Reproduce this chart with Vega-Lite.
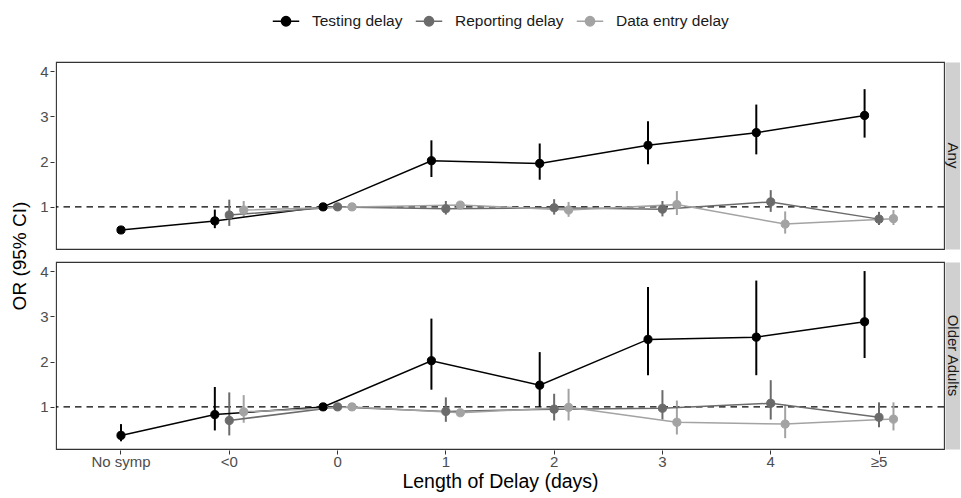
{
  "$schema": "https://vega.github.io/schema/vega-lite/v6.json",
  "padding": {"left": 10, "top": 7, "right": 0, "bottom": 5},
  "background": "white",
  "config": {
    "font": "Liberation Sans",
    "view": {"stroke": "#333333", "strokeWidth": 1.1},
    "axis": {"grid": false, "labelFont": "Liberation Sans", "titleFont": "Liberation Sans"}
  },
  "data": {
    "values": [
      {"panel": "Any", "delay": "No symp", "series": "Testing delay", "or": 0.49, "lo": 0.42, "hi": 0.57},
      {"panel": "Any", "delay": "<0", "series": "Testing delay", "or": 0.69, "lo": 0.53, "hi": 0.94},
      {"panel": "Any", "delay": "0", "series": "Testing delay", "or": 1.0, "lo": 1.0, "hi": 1.0},
      {"panel": "Any", "delay": "1", "series": "Testing delay", "or": 2.02, "lo": 1.66, "hi": 2.47},
      {"panel": "Any", "delay": "2", "series": "Testing delay", "or": 1.96, "lo": 1.6, "hi": 2.4},
      {"panel": "Any", "delay": "3", "series": "Testing delay", "or": 2.36, "lo": 1.94, "hi": 2.89},
      {"panel": "Any", "delay": "4", "series": "Testing delay", "or": 2.64, "lo": 2.16, "hi": 3.26},
      {"panel": "Any", "delay": "≥5", "series": "Testing delay", "or": 3.02, "lo": 2.53, "hi": 3.6},
      {"panel": "Any", "delay": "<0", "series": "Reporting delay", "or": 0.82, "lo": 0.58, "hi": 1.16},
      {"panel": "Any", "delay": "0", "series": "Reporting delay", "or": 1.0, "lo": 1.0, "hi": 1.0},
      {"panel": "Any", "delay": "1", "series": "Reporting delay", "or": 0.96, "lo": 0.83, "hi": 1.13},
      {"panel": "Any", "delay": "2", "series": "Reporting delay", "or": 0.98, "lo": 0.83, "hi": 1.17},
      {"panel": "Any", "delay": "3", "series": "Reporting delay", "or": 0.95, "lo": 0.79, "hi": 1.13},
      {"panel": "Any", "delay": "4", "series": "Reporting delay", "or": 1.11, "lo": 0.89, "hi": 1.37},
      {"panel": "Any", "delay": "≥5", "series": "Reporting delay", "or": 0.73, "lo": 0.6, "hi": 0.89},
      {"panel": "Any", "delay": "<0", "series": "Data entry delay", "or": 0.93, "lo": 0.78, "hi": 1.13},
      {"panel": "Any", "delay": "0", "series": "Data entry delay", "or": 1.0, "lo": 1.0, "hi": 1.0},
      {"panel": "Any", "delay": "1", "series": "Data entry delay", "or": 1.04, "lo": 0.98, "hi": 1.1},
      {"panel": "Any", "delay": "2", "series": "Data entry delay", "or": 0.93, "lo": 0.78, "hi": 1.11},
      {"panel": "Any", "delay": "3", "series": "Data entry delay", "or": 1.05, "lo": 0.82, "hi": 1.35},
      {"panel": "Any", "delay": "4", "series": "Data entry delay", "or": 0.62, "lo": 0.41, "hi": 0.9},
      {"panel": "Any", "delay": "≥5", "series": "Data entry delay", "or": 0.74, "lo": 0.6, "hi": 0.93},
      {"panel": "Older Adults", "delay": "No symp", "series": "Testing delay", "or": 0.37, "lo": 0.24, "hi": 0.62},
      {"panel": "Older Adults", "delay": "<0", "series": "Testing delay", "or": 0.83, "lo": 0.48, "hi": 1.44},
      {"panel": "Older Adults", "delay": "0", "series": "Testing delay", "or": 1.0, "lo": 1.0, "hi": 1.0},
      {"panel": "Older Adults", "delay": "1", "series": "Testing delay", "or": 2.02, "lo": 1.38, "hi": 2.95},
      {"panel": "Older Adults", "delay": "2", "series": "Testing delay", "or": 1.48, "lo": 1.0, "hi": 2.21},
      {"panel": "Older Adults", "delay": "3", "series": "Testing delay", "or": 2.49, "lo": 1.7, "hi": 3.65},
      {"panel": "Older Adults", "delay": "4", "series": "Testing delay", "or": 2.54, "lo": 1.7, "hi": 3.79},
      {"panel": "Older Adults", "delay": "≥5", "series": "Testing delay", "or": 2.88, "lo": 2.08, "hi": 4.0},
      {"panel": "Older Adults", "delay": "<0", "series": "Reporting delay", "or": 0.7, "lo": 0.37, "hi": 1.32},
      {"panel": "Older Adults", "delay": "0", "series": "Reporting delay", "or": 1.0, "lo": 1.0, "hi": 1.0},
      {"panel": "Older Adults", "delay": "1", "series": "Reporting delay", "or": 0.9, "lo": 0.67, "hi": 1.21},
      {"panel": "Older Adults", "delay": "2", "series": "Reporting delay", "or": 0.95, "lo": 0.7, "hi": 1.29},
      {"panel": "Older Adults", "delay": "3", "series": "Reporting delay", "or": 0.97, "lo": 0.72, "hi": 1.37},
      {"panel": "Older Adults", "delay": "4", "series": "Reporting delay", "or": 1.08, "lo": 0.72, "hi": 1.59},
      {"panel": "Older Adults", "delay": "≥5", "series": "Reporting delay", "or": 0.77, "lo": 0.55, "hi": 1.1},
      {"panel": "Older Adults", "delay": "<0", "series": "Data entry delay", "or": 0.89, "lo": 0.65, "hi": 1.26},
      {"panel": "Older Adults", "delay": "0", "series": "Data entry delay", "or": 1.0, "lo": 1.0, "hi": 1.0},
      {"panel": "Older Adults", "delay": "1", "series": "Data entry delay", "or": 0.87, "lo": 0.82, "hi": 0.93},
      {"panel": "Older Adults", "delay": "2", "series": "Data entry delay", "or": 0.99, "lo": 0.7, "hi": 1.4},
      {"panel": "Older Adults", "delay": "3", "series": "Data entry delay", "or": 0.66, "lo": 0.39, "hi": 1.14},
      {"panel": "Older Adults", "delay": "4", "series": "Data entry delay", "or": 0.62, "lo": 0.31, "hi": 1.05},
      {"panel": "Older Adults", "delay": "≥5", "series": "Data entry delay", "or": 0.73, "lo": 0.48, "hi": 1.1}
    ]
  },
  "transform": [
    {"calculate": "datum.delay === 'No symp' ? 'Reporting delay' : datum.series", "as": "dodge"}
  ],
  "facet": {
    "row": {
      "field": "panel", "type": "nominal", "sort": ["Any", "Older Adults"],
      "header": {
        "title": "OR (95% CI)", "titleOrient": "left", "titleFontSize": 19, "titleFontWeight": "normal", "titleColor": "black", "titleFont": "Liberation Sans", "titlePadding": -1,
        "labelOrient": "right", "labelAngle": 90, "labelFontSize": 15, "labelColor": "#1a1a1a", "labelFont": "Liberation Sans", "labelPadding": -9
      }
    }
  },
  "spacing": {"row": 11},
  "spec": {
    "width": 888,
    "height": 187,
    "layer": [
      {
        "transform": [{"aggregate": [{"op": "count", "as": "n"}], "groupby": ["panel"]}],
        "mark": {"type": "rule", "strokeDash": [6.5, 5], "color": "black", "strokeWidth": 1.4},
        "encoding": {
          "y": {"datum": 1, "type": "quantitative", "scale": {"domain": [0.07, 4.2], "nice": false, "zero": false},
            "axis": {"orient": "right", "offset": 7.5, "domainWidth": 17, "domainColor": "#d0d0d0", "ticks": false, "labels": false, "title": null, "grid": false}}
        }
      },
      {
        "encoding": {
          "x": {"field": "delay", "type": "ordinal", "sort": ["No symp", "<0", "0", "1", "2", "3", "4", "≥5"],
            "scale": {"type": "band", "paddingInner": 0.6, "paddingOuter": 0.4},
            "axis": {"title": "Length of Delay (days)", "titleFontSize": 19.5, "titleFontWeight": "normal", "titleColor": "black", "titlePadding": 3,
              "labelAngle": 0, "labelFontSize": 15, "labelColor": "#4d4d4d", "tickColor": "#333333", "tickSize": 4, "labelPadding": 0, "domain": false}},
          "xOffset": {"field": "dodge", "type": "nominal", "scale": {"domain": ["Testing delay", "Reporting delay", "Data entry delay"], "paddingInner": 0, "paddingOuter": 0}},
          "y": {"type": "quantitative", "scale": {"domain": [0.07, 4.2], "nice": false, "zero": false},
            "axis": {"values": [1, 2, 3, 4], "title": null, "labelFontSize": 15, "labelColor": "#4d4d4d", "tickColor": "#333333", "tickSize": 4, "labelPadding": 2, "domain": false}}
        },
        "layer": [
          {
            "mark": {"type": "rule", "strokeWidth": 2},
            "encoding": {
              "y": {"field": "lo", "type": "quantitative"},
              "y2": {"field": "hi"},
              "stroke": {"field": "series", "type": "nominal", "scale": {"domain": ["Testing delay", "Reporting delay", "Data entry delay"], "range": ["#000000", "#6b6b6b", "#a3a3a3"]}}
            }
          },
          {
            "mark": {"type": "line", "strokeWidth": 1.5},
            "encoding": {
              "y": {"field": "or", "type": "quantitative"},
              "stroke": {"field": "series", "type": "nominal"}
            }
          },
          {
            "mark": {"type": "point", "filled": true, "size": 66, "opacity": 1, "strokeWidth": 1},
            "encoding": {
              "y": {"field": "or", "type": "quantitative"},
              "fill": {"field": "series", "type": "nominal", "scale": {"domain": ["Testing delay", "Reporting delay", "Data entry delay"], "range": ["#000000", "#6b6b6b", "#a3a3a3"]},
                "legend": {"title": null, "orient": "none", "legendX": 216, "legendY": -55, "direction": "horizontal", "labelFontSize": 15.5, "labelColor": "#1a1a1a", "labelFont": "Liberation Sans",
                  "symbolType": "M-1,0L1,0M-0.35,0A0.35,0.35,0,1,0,0.35,0A0.35,0.35,0,1,0,-0.35,0Z", "symbolSize": 700, "symbolStrokeWidth": 1.5, "columnPadding": 9, "labelOffset": 12}},
              "stroke": {"field": "series", "type": "nominal",
                "legend": {"title": null, "orient": "none", "legendX": 216, "legendY": -55, "direction": "horizontal", "labelFontSize": 15.5, "labelColor": "#1a1a1a", "labelFont": "Liberation Sans",
                  "symbolType": "M-1,0L1,0M-0.35,0A0.35,0.35,0,1,0,0.35,0A0.35,0.35,0,1,0,-0.35,0Z", "symbolSize": 700, "symbolStrokeWidth": 1.5, "columnPadding": 9, "labelOffset": 12}}
            }
          }
        ]
      }
    ],
    "resolve": {"axis": {"y": "independent"}}
  }
}
